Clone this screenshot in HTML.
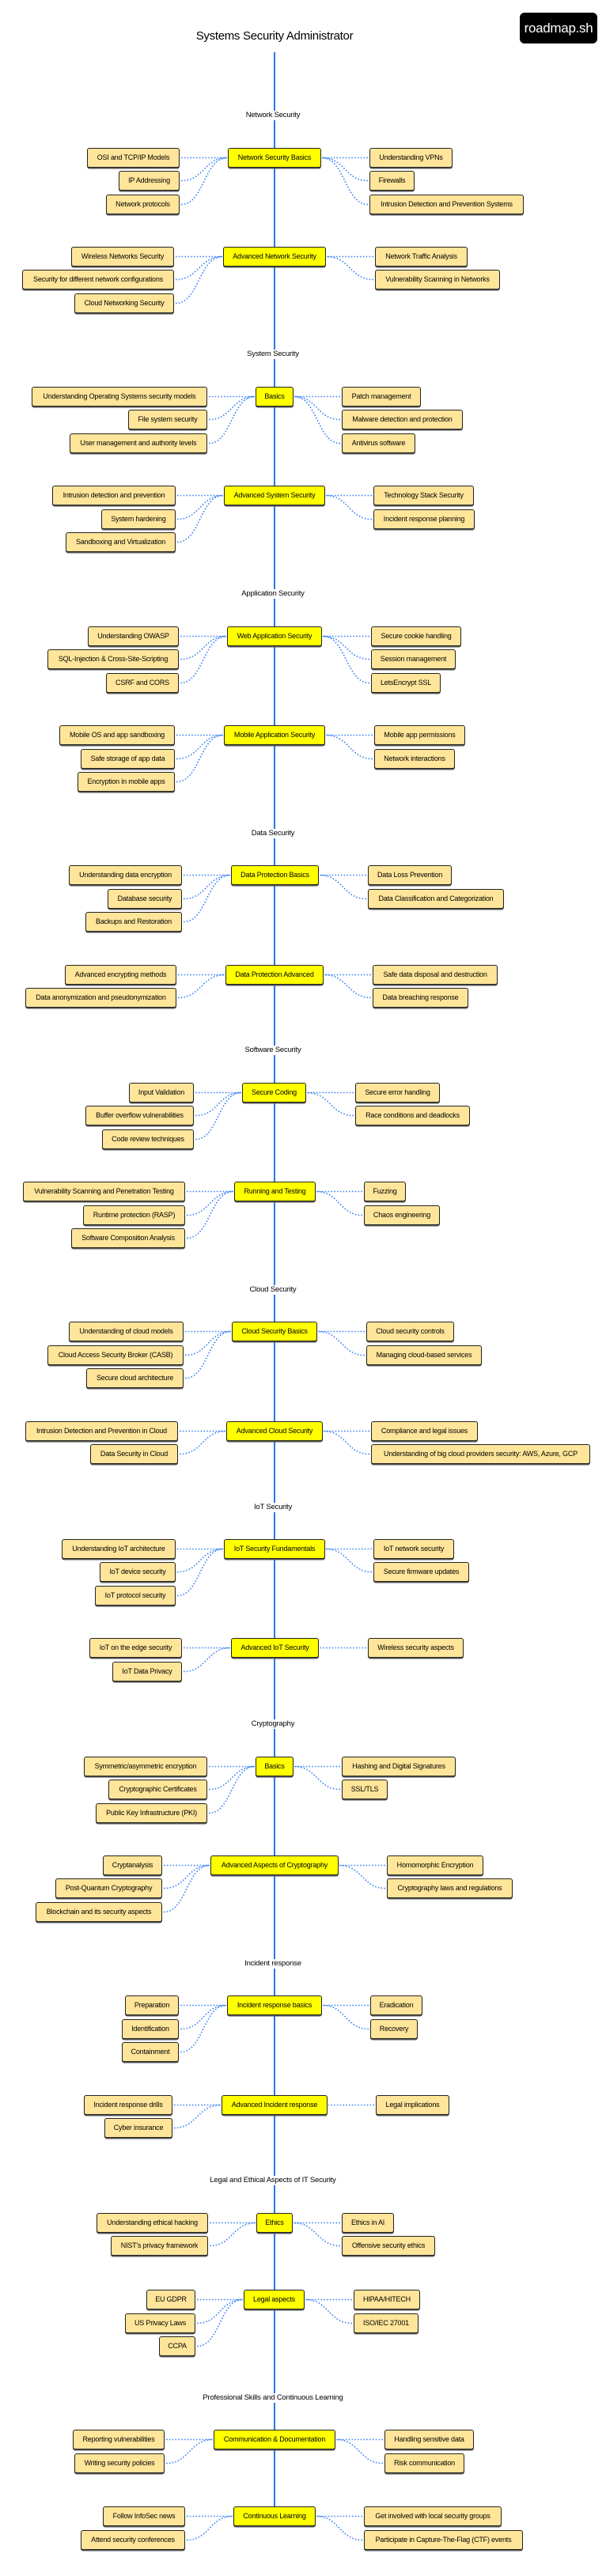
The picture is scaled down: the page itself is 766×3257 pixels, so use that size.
<!DOCTYPE html>
<html><head><meta charset="utf-8">
<style>
html,body{margin:0;padding:0;background:#fff;}
body{width:766px;height:3257px;position:relative;overflow:hidden;font-family:"Liberation Sans",sans-serif;color:#000;}
.n{position:absolute;height:25px;box-sizing:border-box;border:1.5px solid #222;border-radius:3px;background:#ffe599;font-size:9px;letter-spacing:-0.2px;line-height:22px;text-align:center;white-space:nowrap;z-index:2;box-shadow:0 1.5px 0 #555;}
.m{background:#ffff00;}
.lab{position:absolute;left:245px;width:200px;text-align:center;font-size:9.5px;letter-spacing:-0.2px;background:#fff;z-index:2;line-height:12px;}
#vl{position:absolute;left:346px;top:66px;width:1.6px;height:3103px;background:#2b78e4;z-index:0;}
svg{position:absolute;left:0;top:0;z-index:1;}
</style></head><body>
<div style="position:absolute;left:197px;top:37px;width:300px;text-align:center;font-size:15px;letter-spacing:-0.3px;">Systems Security Administrator</div>
<div style="position:absolute;left:657px;top:16px;width:98px;height:39px;background:#000;border-radius:6px;color:#fff;font-size:17px;line-height:39px;text-align:center;letter-spacing:-0.3px;">roadmap.sh</div>
<div id="vl"></div>
<svg id="cn" width="766" height="3257"></svg>

<div class="lab" style="top:140px">Network Security</div>
<div class="lab" style="top:442px">System Security</div>
<div class="lab" style="top:745px">Application Security</div>
<div class="lab" style="top:1048px">Data Security</div>
<div class="lab" style="top:1322px">Software Security</div>
<div class="lab" style="top:1625px">Cloud Security</div>
<div class="lab" style="top:1900px">IoT Security</div>
<div class="lab" style="top:2174px">Cryptography</div>
<div class="lab" style="top:2477px">Incident response</div>
<div class="lab" style="top:2751px">Legal and Ethical Aspects of IT Security</div>
<div class="lab" style="top:3026px">Professional Skills and Continuous Learning</div>

<div class="g">
<div class="n m" style="left:288px;top:187px;width:118px">Network Security Basics</div>
<div class="n c" style="left:110px;top:187px;width:117px">OSI and TCP/IP Models</div>
<div class="n c" style="left:150px;top:216px;width:77px">IP Addressing</div>
<div class="n c" style="left:134px;top:246px;width:93px">Network protocols</div>
<div class="n c" style="left:467px;top:187px;width:105px">Understanding VPNs</div>
<div class="n c" style="left:467px;top:216px;width:57px">Firewalls</div>
<div class="n c" style="left:467px;top:246px;width:195px">Intrusion Detection and Prevention Systems</div>
</div>
<div class="g">
<div class="n m" style="left:282px;top:312px;width:130px">Advanced Network Security</div>
<div class="n c" style="left:90px;top:312px;width:130px">Wireless Networks Security</div>
<div class="n c" style="left:28px;top:341px;width:192px">Security for different network configurations</div>
<div class="n c" style="left:94px;top:371px;width:126px">Cloud Networking Security</div>
<div class="n c" style="left:474px;top:312px;width:117px">Network Traffic Analysis</div>
<div class="n c" style="left:474px;top:341px;width:158px">Vulnerability Scanning in Networks</div>
</div>
<div class="g">
<div class="n m" style="left:323px;top:489px;width:48px">Basics</div>
<div class="n c" style="left:40px;top:489px;width:222px">Understanding Operating Systems security models</div>
<div class="n c" style="left:162px;top:518px;width:100px">File system security</div>
<div class="n c" style="left:88px;top:548px;width:174px">User management and authority levels</div>
<div class="n c" style="left:432px;top:489px;width:100px">Patch management</div>
<div class="n c" style="left:432px;top:518px;width:153px">Malware detection and protection</div>
<div class="n c" style="left:432px;top:548px;width:93px">Antivirus software</div>
</div>
<div class="g">
<div class="n m" style="left:283px;top:614px;width:128px">Advanced System Security</div>
<div class="n c" style="left:66px;top:614px;width:156px">Intrusion detection and prevention</div>
<div class="n c" style="left:128px;top:644px;width:94px">System hardening</div>
<div class="n c" style="left:83px;top:673px;width:139px">Sandboxing and Virtualization</div>
<div class="n c" style="left:472px;top:614px;width:127px">Technology Stack Security</div>
<div class="n c" style="left:472px;top:644px;width:128px">Incident response planning</div>
</div>
<div class="g">
<div class="n m" style="left:287px;top:792px;width:120px">Web Application Security</div>
<div class="n c" style="left:111px;top:792px;width:115px">Understanding OWASP</div>
<div class="n c" style="left:60px;top:821px;width:166px">SQL-Injection &amp; Cross-Site-Scripting</div>
<div class="n c" style="left:134px;top:851px;width:92px">CSRF and CORS</div>
<div class="n c" style="left:469px;top:792px;width:114px">Secure cookie handling</div>
<div class="n c" style="left:469px;top:821px;width:107px">Session management</div>
<div class="n c" style="left:469px;top:851px;width:88px">LetsEncrypt SSL</div>
</div>
<div class="g">
<div class="n m" style="left:283px;top:917px;width:128px">Mobile Application Security</div>
<div class="n c" style="left:75px;top:917px;width:146px">Mobile OS and app sandboxing</div>
<div class="n c" style="left:102px;top:947px;width:119px">Safe storage of app data</div>
<div class="n c" style="left:98px;top:976px;width:123px">Encryption in mobile apps</div>
<div class="n c" style="left:473px;top:917px;width:115px">Mobile app permissions</div>
<div class="n c" style="left:473px;top:947px;width:102px">Network interactions</div>
</div>
<div class="g">
<div class="n m" style="left:292px;top:1094px;width:111px">Data Protection Basics</div>
<div class="n c" style="left:87px;top:1094px;width:143px">Understanding data encryption</div>
<div class="n c" style="left:136px;top:1124px;width:94px">Database security</div>
<div class="n c" style="left:108px;top:1153px;width:122px">Backups and Restoration</div>
<div class="n c" style="left:465px;top:1094px;width:106px">Data Loss Prevention</div>
<div class="n c" style="left:465px;top:1124px;width:172px">Data Classification and Categorization</div>
</div>
<div class="g">
<div class="n m" style="left:285px;top:1220px;width:124px">Data Protection Advanced</div>
<div class="n c" style="left:82px;top:1220px;width:141px">Advanced encrypting methods</div>
<div class="n c" style="left:32px;top:1249px;width:191px">Data anonymization and pseudonymization</div>
<div class="n c" style="left:471px;top:1220px;width:158px">Safe data disposal and destruction</div>
<div class="n c" style="left:471px;top:1249px;width:121px">Data breaching response</div>
</div>
<div class="g">
<div class="n m" style="left:306px;top:1369px;width:81px">Secure Coding</div>
<div class="n c" style="left:163px;top:1369px;width:82px">Input Validation</div>
<div class="n c" style="left:108px;top:1398px;width:137px">Buffer overflow vulnerabilities</div>
<div class="n c" style="left:129px;top:1428px;width:116px">Code review techniques</div>
<div class="n c" style="left:449px;top:1369px;width:107px">Secure error handling</div>
<div class="n c" style="left:449px;top:1398px;width:145px">Race conditions and deadlocks</div>
</div>
<div class="g">
<div class="n m" style="left:296px;top:1494px;width:103px">Running and Testing</div>
<div class="n c" style="left:29px;top:1494px;width:205px">Vulnerability Scanning and Penetration Testing</div>
<div class="n c" style="left:105px;top:1524px;width:129px">Runtime protection (RASP)</div>
<div class="n c" style="left:90px;top:1553px;width:144px">Software Composition Analysis</div>
<div class="n c" style="left:460px;top:1494px;width:53px">Fuzzing</div>
<div class="n c" style="left:460px;top:1524px;width:96px">Chaos engineering</div>
</div>
<div class="g">
<div class="n m" style="left:293px;top:1671px;width:108px">Cloud Security Basics</div>
<div class="n c" style="left:87px;top:1671px;width:145px">Understanding of cloud models</div>
<div class="n c" style="left:60px;top:1701px;width:172px">Cloud Access Security Broker (CASB)</div>
<div class="n c" style="left:109px;top:1730px;width:123px">Secure cloud architecture</div>
<div class="n c" style="left:463px;top:1671px;width:111px">Cloud security controls</div>
<div class="n c" style="left:463px;top:1701px;width:146px">Managing cloud-based services</div>
</div>
<div class="g">
<div class="n m" style="left:286px;top:1797px;width:122px">Advanced Cloud Security</div>
<div class="n c" style="left:32px;top:1797px;width:193px">Intrusion Detection and Prevention in Cloud</div>
<div class="n c" style="left:114px;top:1826px;width:111px">Data Security in Cloud</div>
<div class="n c" style="left:469px;top:1797px;width:135px">Compliance and legal issues</div>
<div class="n c" style="left:469px;top:1826px;width:277px">Understanding of big cloud providers security: AWS, Azure, GCP</div>
</div>
<div class="g">
<div class="n m" style="left:283px;top:1946px;width:128px">IoT Security Fundamentals</div>
<div class="n c" style="left:78px;top:1946px;width:144px">Understanding IoT architecture</div>
<div class="n c" style="left:126px;top:1975px;width:96px">IoT device security</div>
<div class="n c" style="left:120px;top:2005px;width:102px">IoT protocol security</div>
<div class="n c" style="left:472px;top:1946px;width:102px">IoT network security</div>
<div class="n c" style="left:472px;top:1975px;width:121px">Secure firmware updates</div>
</div>
<div class="g">
<div class="n m" style="left:292px;top:2071px;width:111px">Advanced IoT Security</div>
<div class="n c" style="left:113px;top:2071px;width:117px">IoT on the edge security</div>
<div class="n c" style="left:142px;top:2101px;width:88px">IoT Data Privacy</div>
<div class="n c" style="left:465px;top:2071px;width:121px">Wireless security aspects</div>
</div>
<div class="g">
<div class="n m" style="left:323px;top:2221px;width:48px">Basics</div>
<div class="n c" style="left:106px;top:2221px;width:156px">Symmetric/asymmetric encryption</div>
<div class="n c" style="left:137px;top:2250px;width:125px">Cryptographic Certificates</div>
<div class="n c" style="left:121px;top:2280px;width:141px">Public Key Infrastructure (PKI)</div>
<div class="n c" style="left:432px;top:2221px;width:144px">Hashing and Digital Signatures</div>
<div class="n c" style="left:432px;top:2250px;width:58px">SSL/TLS</div>
</div>
<div class="g">
<div class="n m" style="left:266px;top:2346px;width:162px">Advanced Aspects of Cryptography</div>
<div class="n c" style="left:130px;top:2346px;width:75px">Cryptanalysis</div>
<div class="n c" style="left:70px;top:2375px;width:135px">Post-Quantum Cryptography</div>
<div class="n c" style="left:45px;top:2405px;width:160px">Blockchain and its security aspects</div>
<div class="n c" style="left:489px;top:2346px;width:122px">Homomorphic Encryption</div>
<div class="n c" style="left:489px;top:2375px;width:159px">Cryptography laws and regulations</div>
</div>
<div class="g">
<div class="n m" style="left:287px;top:2523px;width:120px">Incident response basics</div>
<div class="n c" style="left:158px;top:2523px;width:68px">Preparation</div>
<div class="n c" style="left:154px;top:2553px;width:72px">Identification</div>
<div class="n c" style="left:154px;top:2582px;width:72px">Containment</div>
<div class="n c" style="left:468px;top:2523px;width:66px">Eradication</div>
<div class="n c" style="left:468px;top:2553px;width:60px">Recovery</div>
</div>
<div class="g">
<div class="n m" style="left:280px;top:2649px;width:134px">Advanced Incident response</div>
<div class="n c" style="left:106px;top:2649px;width:112px">Incident response drills</div>
<div class="n c" style="left:132px;top:2678px;width:86px">Cyber insurance</div>
<div class="n c" style="left:475px;top:2649px;width:93px">Legal implications</div>
</div>
<div class="g">
<div class="n m" style="left:324px;top:2798px;width:46px">Ethics</div>
<div class="n c" style="left:122px;top:2798px;width:141px">Understanding ethical hacking</div>
<div class="n c" style="left:140px;top:2827px;width:123px">NIST's privacy framework</div>
<div class="n c" style="left:432px;top:2798px;width:66px">Ethics in AI</div>
<div class="n c" style="left:432px;top:2827px;width:118px">Offensive security ethics</div>
</div>
<div class="g">
<div class="n m" style="left:308px;top:2895px;width:77px">Legal aspects</div>
<div class="n c" style="left:185px;top:2895px;width:62px">EU GDPR</div>
<div class="n c" style="left:158px;top:2925px;width:89px">US Privacy Laws</div>
<div class="n c" style="left:201px;top:2954px;width:46px">CCPA</div>
<div class="n c" style="left:447px;top:2895px;width:84px">HIPAA/HITECH</div>
<div class="n c" style="left:447px;top:2925px;width:82px">ISO/IEC 27001</div>
</div>
<div class="g">
<div class="n m" style="left:270px;top:3072px;width:154px">Communication &amp; Documentation</div>
<div class="n c" style="left:92px;top:3072px;width:116px">Reporting vulnerabilities</div>
<div class="n c" style="left:94px;top:3102px;width:114px">Writing security policies</div>
<div class="n c" style="left:486px;top:3072px;width:113px">Handling sensitive data</div>
<div class="n c" style="left:486px;top:3102px;width:101px">Risk communication</div>
</div>
<div class="g">
<div class="n m" style="left:295px;top:3169px;width:104px">Continuous Learning</div>
<div class="n c" style="left:130px;top:3169px;width:104px">Follow InfoSec news</div>
<div class="n c" style="left:102px;top:3199px;width:132px">Attend security conferences</div>
<div class="n c" style="left:460px;top:3169px;width:174px">Get involved with local security groups</div>
<div class="n c" style="left:460px;top:3199px;width:201px">Participate in Capture-The-Flag (CTF) events</div>
</div>

<script>
(function(){
var svg=document.getElementById('cn'),ns='http://www.w3.org/2000/svg',out='';
var gs=document.querySelectorAll('.g');
for(var i=0;i<gs.length;i++){
 var m=gs[i].querySelector('.m');
 var ml=m.offsetLeft,mr=ml+m.offsetWidth,my=m.offsetTop+12.5;
 var cs=gs[i].querySelectorAll('.c');
 for(var j=0;j<cs.length;j++){
  var c=cs[j],cl=c.offsetLeft,cr=cl+c.offsetWidth,cy=c.offsetTop+12.5,x1,x2;
  if(cr<ml){x1=cr+2;x2=ml-1;}else{x1=cl-2;x2=mr+1;}
  var mx=(x1+x2)/2;
  out+='<path d="M'+x1+' '+cy+' C'+mx+' '+cy+' '+mx+' '+my+' '+x2+' '+my+'"/>';
 }
}
svg.innerHTML='<g fill="none" stroke="#3b82f6" stroke-width="1.6" stroke-dasharray="1.6 2.2">'+out+'</g>';
})();
</script>
</body></html>
